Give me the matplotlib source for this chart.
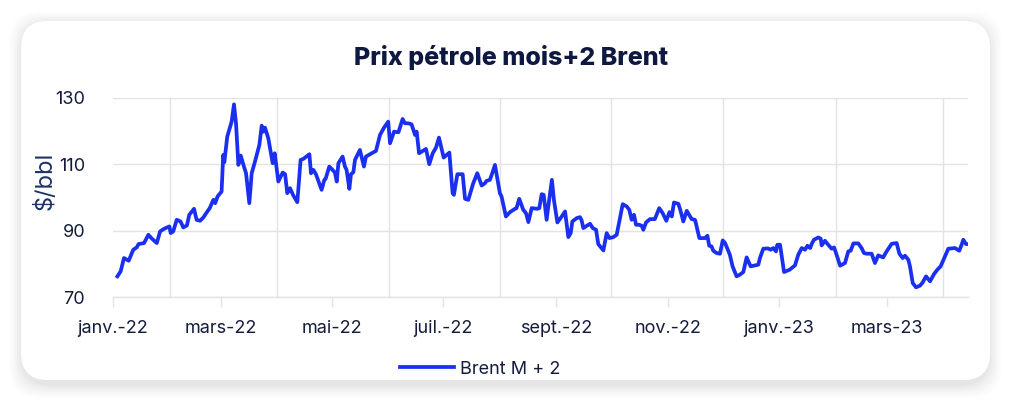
import numpy as np
import pandas as pd
import matplotlib
matplotlib.use("Agg")
import matplotlib.pyplot as plt
from matplotlib.patches import FancyBboxPatch

# ---------------- data ----------------
start_date = "2022-01-01"
day_offset = [
    2.4, 4.2, 6, 8.6, 11.1, 13, 14, 17, 19.4, 21, 24, 25.8, 28, 30.9, 31.6, 33,
    34.9, 37, 38.5, 40.5, 41.8, 44.4, 45.8, 47.7, 49.5, 51.7, 53, 55, 56, 57.3,
    59.5, 60.4, 61, 62.6, 65, 66.3, 67.4, 68.7, 70, 71.2, 72.9, 74.7, 76, 77.8,
    80.2, 81.5, 82.4, 83.3, 85.1, 87.5, 88.6, 90.6, 93, 94.3, 95.5, 97, 98,
    98.8, 101, 102.8, 104.3, 107.6, 108.5, 109.8, 111.2, 114.3, 115.8, 116.5,
    118.5, 120.3, 121.6, 122.6, 123.5, 125.8, 127.1, 128, 129.5, 130.4, 131.7,
    132.6, 135.3, 136.2, 137.5, 138.6, 140.8, 144.1, 146.3, 148.5, 150.8, 151.8,
    154, 156.4, 158.7, 160, 161.8, 163.6, 165.5, 166.4, 167.7, 171.5, 173.3,
    175.2, 177, 178.6, 181.2, 184.3, 186.1, 186.8, 188.7, 191.6, 192.9, 194.7,
    197.4, 199.6, 202, 203.8, 204.7, 206.5, 207.5, 209.3, 212, 212.9, 215.3,
    217.5, 220.3, 221.1, 222.6, 224.8, 226.3, 227.6, 229.4, 232.5, 233.6, 234.9,
    236, 237.6, 239, 240.5, 241.6, 243.5, 245.9, 247.7, 249.5, 250.8, 251.7,
    254.1, 255.9, 256.8, 257.7, 259.6, 261.4, 262.9, 264.7, 265.9, 268.7, 270.5,
    272, 274.2, 276, 277.8, 279.3, 281.5, 282.9, 284.2, 285.5, 286.6, 288.4,
    289.7, 290.6, 292.1, 294.2, 296.9, 299.3, 301.2, 303.2, 304.9, 306.2, 307.4,
    309.8, 311.1, 312.5, 314.4, 317.1, 318.9, 319.8, 321.3, 324.4, 325.7, 326.7,
    328, 328.9, 330.7, 332.6, 334.1, 335.4, 338, 339.5, 341.7, 343.5, 345.4,
    347.2, 349.4, 353.6, 354.5, 356.3, 359, 360.3, 361.8, 363.3, 364, 365.5,
    367.7, 370.8, 373.7, 375.5, 377.4, 379.2, 380.5, 382, 383, 384.1, 386.5,
    387.8, 388.3, 390.1, 391.9, 393.8, 395.1, 396.5, 398.4, 401.1, 402.9, 404.2,
    405.7, 408.4, 410.2, 411.5, 413, 415.7, 417.5, 419.3, 422, 423.9, 426.7,
    429.4, 430.9, 432.7, 434, 435.8, 436.7, 438.2, 440, 442.2, 443.7, 445.5,
    447.7, 449.9, 451.7, 453.5, 455.9, 457.7, 461.4, 463.7, 465, 465.9, 467.4,
    468.7,
]
brent_m2 = [
    76.3, 77.8, 81.8, 81.0, 84.3, 85.0, 86.0, 86.3, 88.8, 87.8, 86.3, 89.8, 90.6,
    91.3, 89.3, 89.8, 93.3, 92.8, 91.0, 91.6, 94.8, 96.6, 93.3, 93.0, 94.0, 95.8,
    96.8, 99.3, 98.3, 100.3, 101.8, 112.8, 110.6, 118.3, 122.8, 128.0, 122.3,
    109.8, 112.6, 110.3, 107.3, 98.3, 107.3, 110.8, 115.8, 121.6, 119.8, 121.0,
    117.8, 110.3, 113.3, 104.8, 107.5, 107.0, 101.3, 102.8, 101.6, 100.6, 98.6,
    111.3, 111.6, 113.0, 107.3, 108.3, 107.0, 102.3, 105.3, 105.6, 109.3, 108.3,
    107.5, 104.8, 110.3, 112.3, 109.3, 108.3, 102.6, 107.0, 107.6, 111.3, 114.3,
    112.3, 109.3, 112.3, 113.0, 114.0, 118.8, 121.0, 122.8, 116.3, 119.8, 119.6,
    123.6, 122.3, 122.3, 122.0, 118.8, 119.8, 113.3, 114.6, 110.0, 113.3, 115.0,
    118.0, 112.0, 113.5, 101.3, 100.8, 107.0, 107.0, 99.6, 99.3, 104.3, 107.3,
    103.6, 104.3, 105.0, 105.3, 106.8, 109.8, 101.3, 100.3, 94.3, 95.6, 96.6,
    96.8, 99.6, 96.3, 95.3, 92.6, 96.8, 96.6, 96.8, 101.0, 100.8, 93.3, 99.3,
    105.3, 99.3, 92.5, 94.3, 95.8, 88.1, 89.3, 92.8, 93.8, 94.1, 93.1, 90.8,
    91.5, 92.1, 90.8, 90.3, 86.0, 84.1, 89.3, 87.8, 88.1, 88.8, 93.8, 98.0,
    97.3, 96.3, 93.3, 94.8, 91.8, 91.8, 91.5, 90.3, 92.5, 93.5, 93.5, 96.8,
    95.3, 93.0, 95.6, 94.3, 98.5, 98.1, 95.8, 92.8, 96.0, 93.5, 93.3, 91.3,
    87.8, 87.8, 88.5, 85.5, 85.3, 84.0, 83.3, 83.1, 87.1, 86.3, 82.8, 79.3,
    76.3, 76.8, 77.6, 82.0, 79.3, 79.8, 81.8, 84.6, 84.7, 84.3, 84.8, 83.8,
    85.8, 85.8, 77.6, 78.3, 79.6, 82.8, 84.8, 84.3, 85.5, 84.8, 86.2, 87.3,
    88.0, 87.6, 85.6, 87.0, 85.8, 84.6, 85.0, 82.8, 79.5, 80.3, 83.8, 84.0,
    86.2, 86.2, 84.8, 83.3, 83.1, 83.1, 80.3, 82.6, 82.0, 83.8, 86.1, 86.3,
    83.1, 81.8, 82.5, 81.3, 79.3, 74.3, 73.0, 73.5, 74.5, 76.3, 74.8, 77.0,
    78.3, 79.3, 82.3, 84.6, 84.8, 84.0, 85.8, 87.3, 86.0, 86.0,
]
tick_dates = ["2022-01-01", "2022-03-01", "2022-05-01", "2022-07-01",
              "2022-09-01", "2022-11-01", "2023-01-01", "2023-03-01"]
tick_labels = ["janv.-22", "mars-22", "mai-22", "juil.-22",
               "sept.-22", "nov.-22", "janv.-23", "mars-23"]
grid_dates = ["2022-02-01", "2022-04-01", "2022-06-01", "2022-08-01",
              "2022-10-01", "2022-12-01", "2023-02-01", "2023-04-01"]
y_ticks = [70, 90, 110, 130]
title = "Prix pétrole mois+2 Brent"
ylabel = "$/bbl"
series_name = "Brent M + 2"

# ---------------- styling ----------------
FONT = ["Inter", "DejaVu Sans"]
plt.rcParams["font.family"] = FONT
NAVY = "#141c3c"
LINE = "#1a2ff0"
GRID = "#e3e3e6"

W, H = 1024, 413
fig = plt.figure(figsize=(W / 100, H / 100), dpi=100)
fig.patch.set_facecolor("#ffffff")


def fx(px):
    return px / W


def fy(py):
    return 1 - py / H


# card with soft shadow
cx0, cy0, cx1, cy1 = 21, 21, 990, 380
for i, a in enumerate([0.018, 0.018, 0.016, 0.014, 0.012, 0.010, 0.008]):
    grow = 2 + i * 2
    sh = FancyBboxPatch((fx(cx0 - grow + 2), fy(cy1 + grow + 4)),
                        fx(cx1 - cx0 + 2 * grow - 4), (cy1 - cy0 + 2 * grow) / H,
                        boxstyle="round,pad=0,rounding_size=0.03",
                        transform=fig.transFigure, facecolor="#000000",
                        edgecolor="none", alpha=a, zorder=0,
                        mutation_aspect=W / H)
    fig.patches.append(sh)
card = FancyBboxPatch((fx(cx0), fy(cy1)), fx(cx1 - cx0), (cy1 - cy0) / H,
                      boxstyle="round,pad=0,rounding_size=0.026",
                      transform=fig.transFigure, facecolor="white",
                      edgecolor="none", zorder=1, mutation_aspect=W / H)
fig.patches.append(card)

ax = fig.add_axes([fx(113), fy(297.3), fx(968 - 113), (297.3 - 97.7) / H])
ax.set_zorder(2)
ax.patch.set_alpha(0)

dates = pd.Timestamp(start_date) + pd.to_timedelta(np.array(day_offset), unit="D")
ax.plot(dates, brent_m2, color=LINE, lw=2.7, solid_joinstyle="round",
        label=series_name, zorder=3)

ax.set_ylim(70, 130)
ax.set_xlim(pd.Timestamp(start_date), pd.Timestamp(start_date) + pd.Timedelta(days=468.5))
ax.set_yticks(y_ticks)
ax.set_xticks(pd.to_datetime(tick_dates))
ax.set_xticklabels(tick_labels)
ax.set_xticks(pd.to_datetime(grid_dates), minor=True)

for s in ["top", "right", "left"]:
    ax.spines[s].set_visible(False)
ax.spines["bottom"].set_color(GRID)
ax.spines["bottom"].set_linewidth(1)

ax.grid(axis="y", which="major", color=GRID, lw=1)
ax.grid(axis="x", which="minor", color=GRID, lw=1)
ax.grid(axis="x", which="major", visible=False)

ax.tick_params(axis="y", length=0, pad=20, labelsize=13, labelcolor=NAVY)
ax.tick_params(axis="x", which="major", length=7, width=1, color=GRID,
               pad=9, labelsize=13, labelcolor=NAVY)
ax.tick_params(axis="x", which="minor", length=0)

fig.text(fx(511.5), fy(58), title, ha="center", va="center", fontsize=18,
         fontweight="heavy", color="#0e1840", zorder=3)
fig.text(fx(45), fy(181), ylabel, ha="center", va="center", rotation=90,
         fontsize=17, color="#1f3264", zorder=3)

leg = fig.legend(loc="center", bbox_to_anchor=(fx(480), fy(369)), frameon=False,
                 fontsize=13, handlelength=3.0, handletextpad=0.3,
                 labelcolor=NAVY)
leg.set_zorder(3)

fig.savefig("out.png", dpi=100, facecolor=fig.get_facecolor())
